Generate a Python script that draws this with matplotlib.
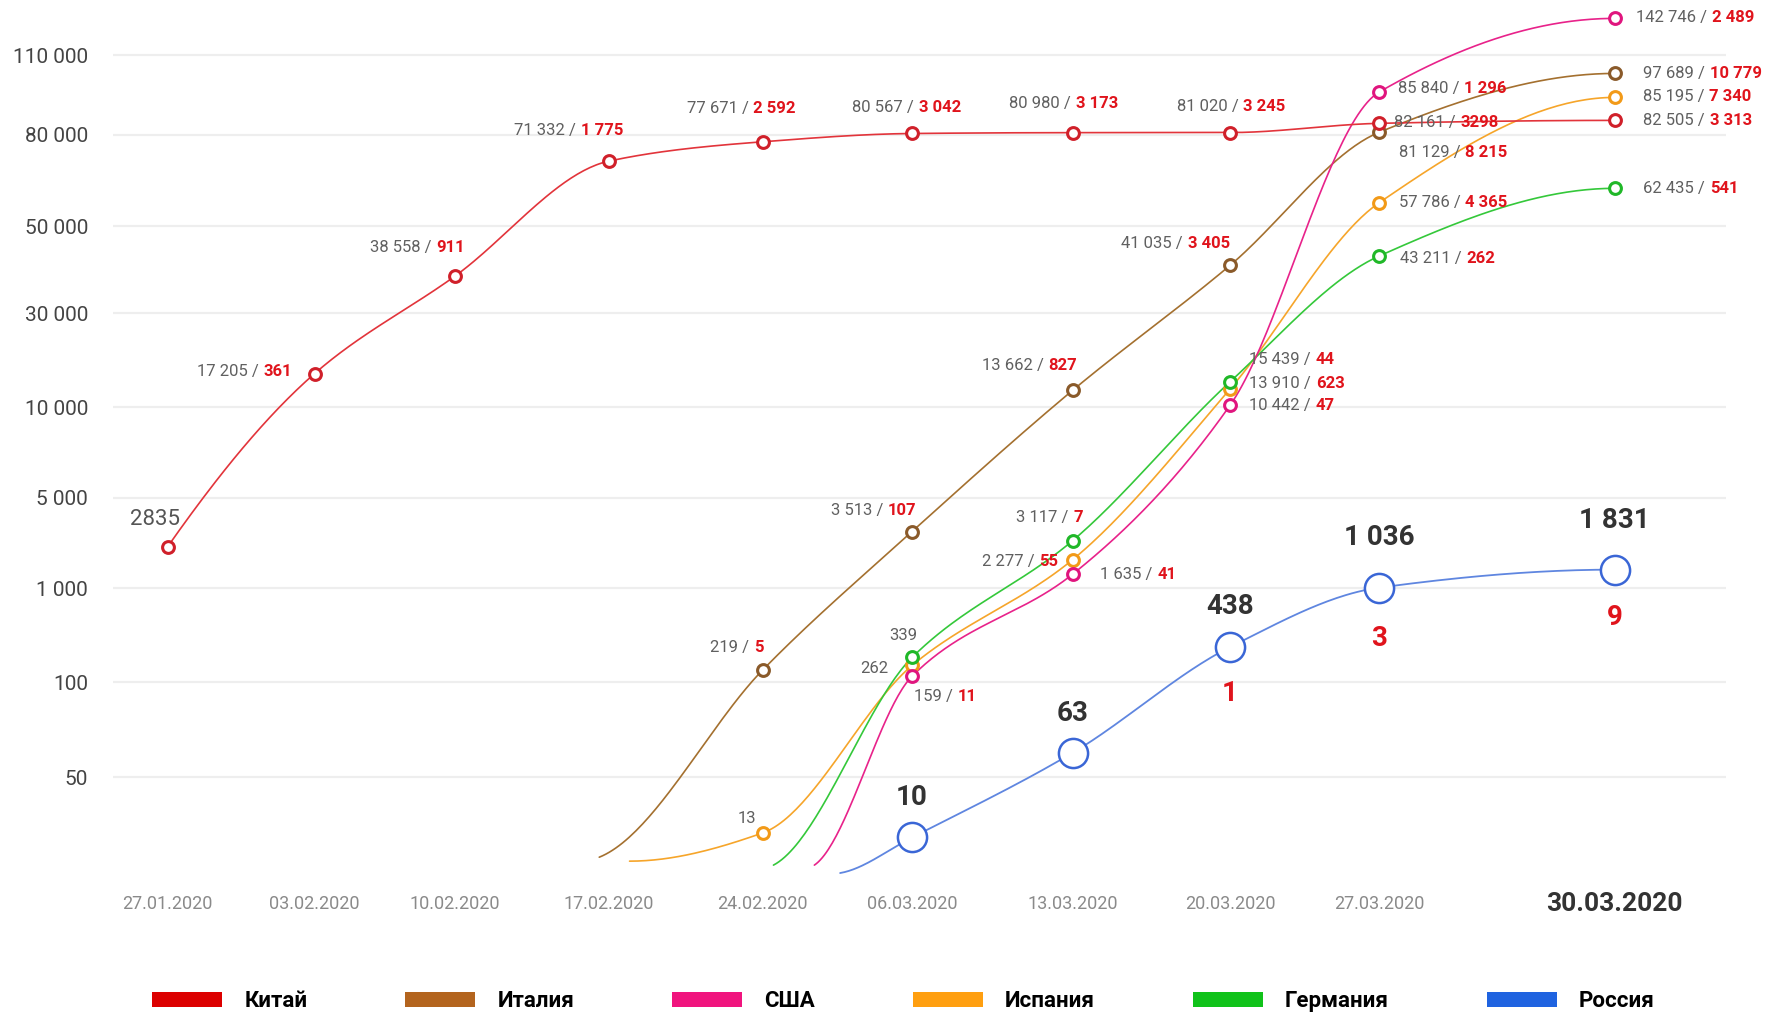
import numpy as np
import matplotlib
matplotlib.use("Agg")
import matplotlib.pyplot as plt
from matplotlib.patches import Patch
from matplotlib.offsetbox import TextArea, HPacker, AnnotationBbox

# ---------------- data ----------------
dates = ["27.01.2020", "03.02.2020", "10.02.2020", "17.02.2020", "24.02.2020",
         "06.03.2020", "13.03.2020", "20.03.2020", "27.03.2020", "30.03.2020"]

china_cases = [2835, 17205, 38558, 71332, 77671, 80567, 80980, 81020, 82161, 82505]
china_deaths = [None, 361, 911, 1775, 2592, 3042, 3173, 3245, 3298, 3313]

italy_cases = [219, 3513, 13662, 41035, 81129, 97689]        # 24.02 .. 30.03
italy_deaths = [5, 107, 827, 3405, 8215, 10779]

spain_cases = [13, 262, 2277, 13910, 57786, 85195]           # 24.02 .. 30.03
spain_deaths = [None, None, 55, 623, 4365, 7340]

usa_cases = [159, 1635, 10442, 85840, 142746]                # 06.03 .. 30.03
usa_deaths = [11, 41, 47, 1296, 2489]

germany_cases = [339, 3117, 15439, 43211, 62435]             # 06.03 .. 30.03
germany_deaths = [None, 7, 44, 262, 541]

russia_cases = [10, 63, 438, 1036, 1831]                     # 06.03 .. 30.03
russia_deaths = [None, None, 1, 3, 9]

# where each curve begins (date position, cases)
italy_start = (2.85, 5)
spain_start = (3.05, 4)
germany_start = (4.0, 3)
usa_start = (4.27, 3)
russia_start = (4.44, 1)

ytick_values = [50, 100, 1000, 5000, 10000, 30000, 50000, 80000, 110000]
ytick_labels = ["50", "100", "1 000", "5 000", "10 000", "30 000", "50 000", "80 000", "110 000"]

legend_names = ["Китай", "Италия", "США", "Испания", "Германия", "Россия"]

# ---------------- layout ----------------
x_pos = [0, 0.971, 1.897, 2.913, 3.929, 4.915, 5.976, 7.014, 8.0, 9.554]
# non-uniform (hand drawn) value axis: value -> axis position
scale_vals = [0, 10, 50, 100, 1000, 5000, 10000, 30000, 50000, 80000, 81100, 86000, 110000, 150000, 200000]
scale_pos = [0, 35, 88, 172, 255, 335, 415, 498, 575, 656, 658, 695, 726, 766, 816]

def fwd(v):
    return np.interp(v, scale_vals, scale_pos)

def inv(p):
    return np.interp(p, scale_pos, scale_vals)

C_CHINA, C_ITALY, C_USA, C_SPAIN, C_GER, C_RUS = "#e2343b", "#a4702f", "#e8228a", "#f6a52a", "#34c83a", "#5f86e0"
M_CHINA, M_ITALY, M_USA, M_SPAIN, M_GER, M_RUS = "#d0202a", "#8a5a2a", "#e0157e", "#f29a18", "#20b828", "#3a66d6"
LEG_COLORS = ["#dc0000", "#b3641e", "#f0147e", "#ff9f10", "#10c21a", "#1f63e0"]

GRAY = "#606060"
RED = "#e0141c"

plt.rcParams["font.family"] = ["Roboto", "DejaVu Sans"]

fig = plt.figure(figsize=(17.75, 10.15), dpi=100)
ax = fig.add_axes([113 / 1775, 138 / 1015, (1726 - 113) / 1775, 877 / 1015])
ax.set_yscale("function", functions=(fwd, inv))
ax.set_xlim(-0.36, 10.288)
ax.set_ylim(0, inv(775))
for s in ax.spines.values():
    s.set_visible(False)
ax.set_facecolor("white")

ax.set_yticks(ytick_values)
ax.set_yticklabels(ytick_labels, fontsize=15, color="#444444")
ax.yaxis.set_minor_locator(matplotlib.ticker.NullLocator())
ax.tick_params(axis="y", length=0, pad=18)
ax.grid(axis="y", color="#eeeeee", lw=1.6, zorder=0)
ax.set_axisbelow(True)

ax.set_xticks(x_pos)
ax.set_xticklabels(dates)
ax.tick_params(axis="x", length=0, pad=19.5)
xl = ax.get_xticklabels()
for lbl in xl:
    lbl.set_verticalalignment("center")
    lbl.set_fontsize(13)
    lbl.set_color("#8a8a8a")
xl[-1].set_fontsize(19)
xl[-1].set_fontweight("bold")
xl[-1].set_color("#333333")


def pchip_curve(x, y, n=50, soft_start=False):
    x = np.asarray(x, float)
    y = np.asarray(y, float)
    h = np.diff(x)
    d = np.diff(y) / h
    m = np.zeros(len(x))
    for k in range(1, len(x) - 1):
        if d[k - 1] * d[k] > 0:
            w1 = 2 * h[k] + h[k - 1]
            w2 = h[k] + 2 * h[k - 1]
            m[k] = (w1 + w2) / (w1 / d[k - 1] + w2 / d[k])

    def end(h0, h1, d0, d1):
        s = ((2 * h0 + h1) * d0 - h0 * d1) / (h0 + h1)
        if np.sign(s) != np.sign(d0):
            s = 0.0
        elif np.sign(d0) != np.sign(d1) and abs(s) > abs(3 * d0):
            s = 3 * d0
        return s

    m[0] = end(h[0], h[1], d[0], d[1])
    if soft_start:
        m[0] = min(m[0], 0.35 * d[0])
    m[-1] = end(h[-1], h[-2], d[-1], d[-2])
    xs, ys = [], []
    for k in range(len(x) - 1):
        t = np.linspace(0, 1, n)
        hk = h[k]
        h00 = 2 * t**3 - 3 * t**2 + 1
        h10 = t**3 - 2 * t**2 + t
        h01 = -2 * t**3 + 3 * t**2
        h11 = t**3 - t**2
        xs.append(x[k] + t * hk)
        ys.append(h00 * y[k] + h10 * hk * m[k] + h01 * y[k + 1] + h11 * hk * m[k + 1])
    return np.concatenate(xs), np.concatenate(ys)


def draw_series(xs, vals, start, line_c, mark_c, ms=8.5, mew=2.2, lw=1.2):
    lx = list(xs)
    lv = list(vals)
    if start is not None:
        lx = [start[0]] + lx
        lv = [start[1]] + lv
    cx, cp = pchip_curve(lx, fwd(np.array(lv, float)), soft_start=start is not None)
    ax.plot(cx, inv(cp), color=line_c, lw=lw, zorder=3, solid_capstyle="round")
    ax.plot(xs, vals, "o", mfc="white", mec=mark_c, ms=ms, mew=mew, zorder=4)


K = (1015 / 897) * 0.72  # reference-pixel offset -> points


def fmt(n):
    return f"{n:,}".replace(",", " ")


def pair_label(x, v, cases_txt, deaths_txt, ha, dx, dy, size=12):
    kids = [TextArea(cases_txt + (" /" if deaths_txt else ""),
                     textprops=dict(color=GRAY, fontsize=size))]
    if deaths_txt:
        kids.append(TextArea(deaths_txt, textprops=dict(color=RED, fontsize=size, fontweight="bold")))
    pack = HPacker(children=kids, align="baseline", pad=0, sep=3.5)
    bx = {"left": 0.0, "center": 0.5, "right": 1.0}[ha]
    ab = AnnotationBbox(pack, (x, v), xybox=(dx * K, -dy * K), xycoords="data",
                        boxcoords="offset points", box_alignment=(bx, 0.5),
                        frameon=False, pad=0, annotation_clip=False, zorder=6)
    ab.set_clip_on(False)
    ax.add_artist(ab)


def series_labels(xs, cases, deaths, layout, nosep=()):
    for i, (x, c, d, (ha, dx, dy)) in enumerate(zip(xs, cases, deaths, layout)):
        dtxt = None if d is None else (str(d) if i in nosep else fmt(d))
        pair_label(x, c, fmt(c), dtxt, ha, dx, dy)


# ---------------- series ----------------
x_china = x_pos
x_from_24 = x_pos[4:]
x_from_06 = x_pos[5:]

draw_series(x_from_24, italy_cases, italy_start, C_ITALY, M_ITALY)
draw_series(x_from_24, spain_cases, spain_start, C_SPAIN, M_SPAIN)
draw_series(x_from_06, germany_cases, germany_start, C_GER, M_GER)
draw_series(x_from_06, usa_cases, usa_start, C_USA, M_USA)
draw_series(x_china, china_cases, None, C_CHINA, M_CHINA)
draw_series(x_from_06, russia_cases, russia_start, C_RUS, M_RUS, ms=21, mew=1.8, lw=1.3)

# ---------------- labels ----------------
lay_china = [None, ("right", -20, -2), ("right", 9, -25), ("right", 13, -27), ("center", -19, -29),
             ("center", -5, -23), ("center", -8, -26), ("center", 1, -23), ("left", 13, -1), ("left", 25, 0)]
ax.annotate(str(china_cases[0]), (x_china[0], china_cases[0]), xytext=(-11 * K, 24 * K),
            textcoords="offset points", ha="center", va="center", fontsize=16, color="#555555")
series_labels(x_china[1:], china_cases[1:], china_deaths[1:], lay_china[1:], nosep=(7,))

lay_italy = [("right", 1, -20), ("right", 4, -19), ("right", 4, -22), ("right", 0, -19),
             ("left", 17, 18), ("left", 25, 0)]
series_labels(x_from_24, italy_cases, italy_deaths, lay_italy)

lay_spain = [("right", -6, -13), ("right", -21, 3), ("right", -13, 2), ("left", 17, -5),
             ("left", 17, 0), ("left", 25, -1)]
series_labels(x_from_24, spain_cases, spain_deaths, lay_spain)

lay_usa = [("left", 2, 18), ("left", 24, 0), ("left", 17, 0), ("left", 16, -3), ("left", 19, -1)]
series_labels(x_from_06, usa_cases, usa_deaths, lay_usa)

lay_ger = [("center", -8, -19), ("right", 9, -20), ("left", 17, -20), ("left", 18, 2), ("left", 25, 0)]
series_labels(x_from_06, germany_cases, germany_deaths, lay_ger)

rus_above = [-35, -35, -36, -44, -43]
rus_below = [0, 0, 41, 45, 42]
for x, c, d, da, db in zip(x_from_06, russia_cases, russia_deaths, rus_above, rus_below):
    ax.annotate(fmt(c), (x, c), xytext=(0, -da * K), textcoords="offset points",
                ha="center", va="center", fontsize=20, fontweight="bold", color="#333333", zorder=6)
    if d is not None:
        ax.annotate(str(d), (x, c), xytext=(0, -db * K), textcoords="offset points",
                    ha="center", va="center", fontsize=20, fontweight="bold", color=RED, zorder=6)

# ---------------- legend ----------------
handles = [Patch(facecolor=c, edgecolor="none") for c in LEG_COLORS]
fig.legend(handles, legend_names, ncol=6, loc="center", bbox_to_anchor=(0.509, 0.0135),
           frameon=False, prop=dict(family=["Roboto", "DejaVu Sans"], weight="bold", size=16),
           handlelength=3.15, handleheight=0.72, handletextpad=1.0, columnspacing=4.4,
           borderpad=0, borderaxespad=0)

fig.savefig("out.png", dpi=100, facecolor="white")
